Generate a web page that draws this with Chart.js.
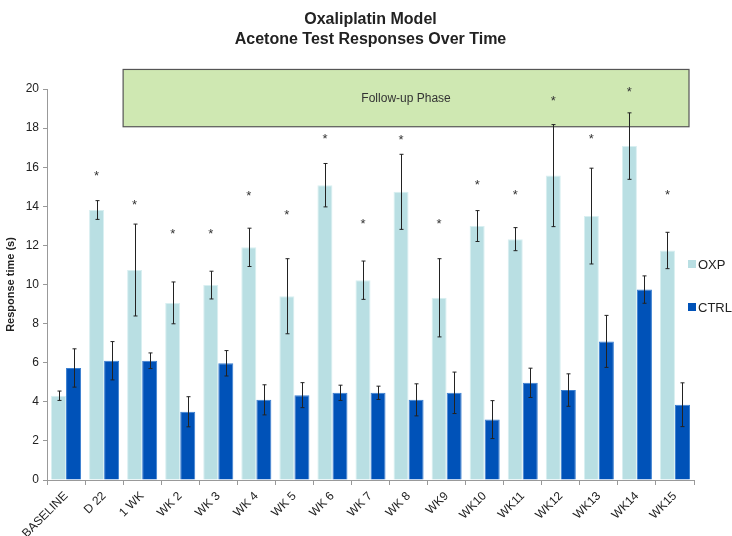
<!DOCTYPE html>
<html>
<head>
<meta charset="utf-8">
<script src="https://cdn.jsdelivr.net/npm/chart.js@4.4.1/dist/chart.umd.min.js"></script>
<style>
  html, body { margin: 0; padding: 0; background: #fff; }
  #chart { display: block; }
</style>
</head>
<body>
<canvas id="chart" width="732" height="536"></canvas>
<script>
const labels = ['BASELINE', 'D 22', '1 WK', 'WK 2', 'WK 3', 'WK 4', 'WK 5', 'WK 6', 'WK 7', 'WK 8', 'WK9', 'WK10', 'WK11', 'WK12', 'WK13', 'WK14', 'WK15'];
const oxpValues = [4.31, 13.81, 10.74, 9.06, 9.97, 11.90, 9.40, 15.08, 10.22, 14.74, 9.32, 12.99, 12.32, 15.57, 13.50, 17.08, 11.74];
const oxpErrors = [0.24, 0.48, 2.35, 1.07, 0.71, 0.98, 1.92, 1.11, 0.98, 1.92, 2.00, 0.79, 0.59, 2.61, 2.45, 1.70, 0.93];
const ctrlValues = [5.73, 6.10, 6.10, 3.49, 5.97, 4.10, 4.34, 4.46, 4.46, 4.10, 4.46, 3.09, 4.97, 4.60, 7.09, 9.74, 3.85];
const ctrlErrors = [0.98, 0.98, 0.40, 0.77, 0.65, 0.77, 0.64, 0.39, 0.34, 0.82, 1.06, 0.97, 0.75, 0.83, 1.33, 0.70, 1.12];
// where the significance stars sit (y value), none for baseline
const starValues = [null, 15.73, 14.29, 12.77, 12.77, 14.75, 13.74, 17.64, 13.28, 17.59, 13.28, 15.28, 14.77, 19.59, 17.64, 20.05, 14.77];
const yTicks = [0, 2, 4, 6, 8, 10, 12, 14, 16, 18, 20];

const FONT = '"Liberation Sans", Arial, sans-serif';
const errorLists = [oxpErrors, ctrlErrors];

const phasePlugin = {
    id: 'phaseBox',
    beforeDatasetsDraw(chart) {
        const { ctx, chartArea, scales: { x, y } } = chart;
        const left = (x.getPixelForValue(1) + x.getPixelForValue(2)) / 2;
        const right = chartArea.right - 5;
        const top = y.getPixelForValue(21);
        const bottom = y.getPixelForValue(18.07);
        ctx.save();
        ctx.fillStyle = '#cfe8b2';
        ctx.strokeStyle = '#555';
        ctx.lineWidth = 1.2;
        ctx.fillRect(left, top, right - left, bottom - top);
        ctx.strokeRect(left, top, right - left, bottom - top);
        ctx.fillStyle = '#333';
        ctx.font = '12px ' + FONT;
        ctx.textAlign = 'center';
        ctx.textBaseline = 'middle';
        ctx.fillText('Follow-up Phase', (left + right) / 2, top + 29);
        ctx.restore();
    },
    afterDatasetsDraw(chart) {
        const { ctx, scales: { y } } = chart;
        ctx.save();
        ctx.strokeStyle = '#222';
        ctx.lineWidth = 1;
        chart.data.datasets.forEach((ds, di) => {
            const meta = chart.getDatasetMeta(di);
            meta.data.forEach((bar, i) => {
                const err = errorLists[di][i];
                const hi = y.getPixelForValue(ds.data[i] + err);
                const lo = y.getPixelForValue(ds.data[i] - err);
                const cx = Math.round(bar.x) + 0.5;
                ctx.beginPath();
                ctx.moveTo(cx, hi); ctx.lineTo(cx, lo);
                ctx.moveTo(cx - 2, hi); ctx.lineTo(cx + 2, hi);
                ctx.moveTo(cx - 2, lo); ctx.lineTo(cx + 2, lo);
                ctx.stroke();
            });
        });
        // stars over the OXP bars
        const oxpMeta = chart.getDatasetMeta(0);
        ctx.fillStyle = '#333';
        ctx.font = '13px ' + FONT;
        ctx.textAlign = 'center';
        ctx.textBaseline = 'alphabetic';
        starValues.forEach((v, i) => {
            if (v === null) return;
            ctx.fillText('*', oxpMeta.data[i].x, y.getPixelForValue(v) + 8);
        });
        ctx.restore();
    },
    afterDraw(chart) {
        const { ctx } = chart;
        const items = [['OXP', '#b9dfe3', 264], ['CTRL', '#0052b8', 307]];
        ctx.save();
        ctx.font = '13px ' + FONT;
        ctx.textBaseline = 'middle';
        items.forEach(([name, col, yy]) => {
            ctx.fillStyle = col;
            ctx.fillRect(688, yy - 4, 8, 8);
            ctx.fillStyle = '#222';
            ctx.fillText(name, 698, yy + 1);
        });
        ctx.restore();
    }
};

new Chart(document.getElementById('chart').getContext('2d'), {
    type: 'bar',
    data: {
        labels: labels,
        datasets: [{
            label: 'OXP',
            data: oxpValues,
            backgroundColor: '#b9dfe3',
            borderColor: '#d8eff1',
            borderWidth: 1,
            categoryPercentage: 0.79,
            barPercentage: 1
        }, {
            label: 'CTRL',
            data: ctrlValues,
            backgroundColor: '#0052b8',
            borderColor: '#3a7fd0',
            borderWidth: 1,
            categoryPercentage: 0.79,
            barPercentage: 1
        }]
    },
    options: {
        responsive: false,
        animation: false,
        layout: { padding: { left: 0, right: 38, top: 0, bottom: 0 } },
        plugins: {
            legend: { display: false },
            tooltip: { enabled: false },
            title: {
                display: true,
                fullSize: false,
                text: ['Oxaliplatin Model', 'Acetone Test Responses Over Time'],
                color: '#222',
                font: { family: FONT, size: 16, weight: 'bold', lineHeight: 1.25 },
                padding: { top: 10, bottom: 39 }
            }
        },
        scales: {
            x: {
                grid: { display: true, offset: true, drawOnChartArea: false, tickLength: 5, color: '#999' },
                border: { color: '#999' },
                ticks: {
                    maxRotation: 45, minRotation: 45,
                    padding: 4,
                    color: '#222',
                    font: { family: FONT, size: 12 }
                },
                afterFit(scale) { scale.height = 56; }
            },
            y: {
                min: 0, max: 20,
                afterBuildTicks(scale) { scale.ticks = yTicks.map(v => ({ value: v })); },
                grid: { display: true, drawOnChartArea: false, tickLength: 4, color: '#999' },
                border: { color: '#999' },
                ticks: { color: '#222', padding: 4, font: { family: FONT, size: 12 } },
                title: {
                    display: true,
                    text: 'Response time (s)',
                    color: '#222',
                    font: { family: FONT, size: 11, weight: 'bold' },
                    padding: { top: 4, bottom: 0 }
                },
                afterFit(scale) { scale.width = 47; }
            }
        }
    },
    plugins: [phasePlugin]
});
</script>
</body>
</html>
